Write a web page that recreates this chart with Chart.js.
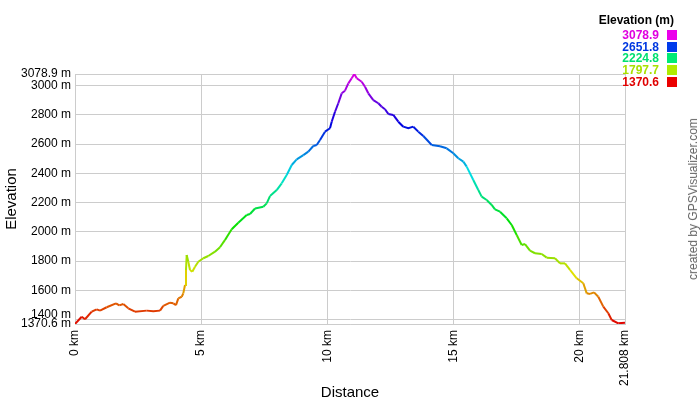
<!DOCTYPE html>
<html>
<head>
<meta charset="utf-8">
<script src="https://cdn.jsdelivr.net/npm/chart.js@4"></script>
<style>
  body { margin: 0; background: #fff; }
  #wrap { position: relative; width: 700px; height: 400px; font-family: "Liberation Sans", Arial, sans-serif; }
  #legend-title { position: absolute; right: 26px; top: 13px; font-size: 12px; font-weight: bold; color: #000; }
  .lg-val { position: absolute; right: 41px; font-size: 12px; font-weight: bold; line-height: 12px; }
  .lg-box { position: absolute; left: 667px; width: 10px; height: 10px; }
  #credit { position: absolute; left: 693px; top: 199px; font-size: 12px; color: #666;
            transform: translate(-50%, -50%) rotate(-90deg); white-space: nowrap; }
</style>
</head>
<body>
<div id="wrap">
  <canvas id="chart" width="700" height="400"></canvas>
  <div id="legend-title">Elevation (m)</div>
  <div id="credit">created by GPSVisualizer.com</div>
</div>
<script>
// Elevation profile
const distanceKm = [
  0, 0.266, 0.397, 0.662, 0.860, 0.991, 1.257, 1.626, 1.757, 1.915,
  2.113, 2.379, 2.843, 3.105, 3.370, 3.501, 3.767, 3.898, 4.005, 4.096,
  4.231, 4.294, 4.362, 4.401, 4.429, 4.492, 4.560, 4.651, 4.758, 4.889,
  5.087, 5.285, 5.551, 5.749, 5.948, 6.213, 6.475, 6.808, 6.939, 7.138,
  7.467, 7.601, 7.732, 7.998, 8.196, 8.394, 8.593, 8.791, 9.053, 9.251,
  9.449, 9.584, 9.715, 9.913, 10.111, 10.179, 10.310, 10.440, 10.575, 10.706,
  10.837, 10.972, 11.075, 11.170, 11.368, 11.499, 11.630, 11.828, 12.026, 12.161,
  12.292, 12.423, 12.621, 12.819, 13.017, 13.216, 13.414, 13.612, 13.811, 14.144,
  14.473, 14.738, 15.000, 15.198, 15.397, 15.531, 15.793, 15.991, 16.126, 16.324,
  16.522, 16.653, 16.852, 17.117, 17.316, 17.514, 17.712, 17.843, 18.041, 18.240,
  18.505, 18.704, 19.033, 19.231, 19.429, 19.628, 19.893, 20.155, 20.290, 20.420,
  20.579, 20.749, 20.948, 21.146, 21.281, 21.542, 21.808
];
const elevationM = [
  1370.6, 1420, 1403, 1455, 1471, 1462, 1485, 1512, 1498, 1507,
  1478, 1455, 1462, 1457, 1462, 1494, 1516, 1512, 1500, 1546,
  1557, 1580, 1637, 1740, 1842, 1796, 1740, 1728, 1762, 1796,
  1820, 1835, 1865, 1895, 1945, 2018, 2063, 2115, 2122, 2160,
  2172, 2195, 2245, 2286, 2332, 2389, 2457, 2496, 2525, 2548,
  2587, 2594, 2628, 2685, 2708, 2753, 2821, 2879, 2947, 2965,
  3015, 3050, 3078.9, 3050, 3026, 2992, 2947, 2901, 2879, 2855,
  2838, 2806, 2799, 2753, 2719, 2708, 2719, 2685, 2655, 2594,
  2585, 2571, 2537, 2503, 2480, 2446, 2355, 2286, 2241, 2218,
  2184, 2154, 2138, 2093, 2047, 1979, 1910, 1917, 1872, 1854,
  1849, 1824, 1820, 1785, 1785, 1740, 1683, 1649, 1580, 1576,
  1587, 1557, 1489, 1444, 1398, 1375, 1380
];
const xTickValues = [0, 5, 10, 15, 20, 21.808];
const yTickValues = [1370.6, 1400, 1600, 1800, 2000, 2200, 2400, 2600, 2800, 3000, 3078.9];
const legendValues = [3078.9, 2651.8, 2224.8, 1797.7, 1370.6];

const elevMin = 1370.6, elevMax = 3078.9;
const FONT = '"Liberation Sans", Arial, sans-serif';
const GRID = '#cccccc';

// red -> yellow -> green -> blue -> magenta along elevation
function elevColor(e, light = 44) {
  const h = (e - elevMin) / (elevMax - elevMin) * 300;
  return `hsl(${h.toFixed(1)}, 100%, ${light}%)`;
}

// colour scale legend
const wrap = document.getElementById('wrap');
legendValues.forEach((v, i) => {
  const cy = 35 + i * 11.7;
  const t = document.createElement('div');
  t.className = 'lg-val';
  t.textContent = v.toFixed(1);
  t.style.top = (cy - 6) + 'px';
  t.style.color = elevColor(v, 44);
  wrap.appendChild(t);
  const b = document.createElement('div');
  b.className = 'lg-box';
  b.style.top = (cy - 5) + 'px';
  b.style.background = elevColor(v, 46);
  wrap.appendChild(b);
});

new Chart(document.getElementById('chart'), {
  type: 'line',
  data: {
    datasets: [{
      data: distanceKm.map((x, i) => ({ x, y: elevationM[i] })),
      borderWidth: 2,
      pointRadius: 0,
      tension: 0,
      borderColor: elevColor(elevMin),
      segment: {
        borderColor: ctx => elevColor((ctx.p0.parsed.y + ctx.p1.parsed.y) / 2),
      },
    }],
  },
  options: {
    responsive: false,
    animation: false,
    layout: { padding: { top: 74, right: 75, bottom: 0, left: 0 } },
    plugins: { legend: { display: false }, tooltip: { enabled: false } },
    scales: {
      x: {
        type: 'linear',
        min: 0,
        max: 21.808,
        afterBuildTicks: s => { s.ticks = xTickValues.map(v => ({ value: v })); },
        afterFit: s => { s.height = 76; },
        grid: { color: GRID, drawTicks: false },
        border: { color: GRID },
        ticks: {
          autoSkip: false, maxRotation: 90, minRotation: 90, padding: 6,
          color: '#000', font: { family: FONT, size: 12 },
          callback: v => v + ' km',
        },
        title: { display: true, text: 'Distance', color: '#000', padding: 0, font: { family: FONT, size: 15, lineHeight: 1 } },
      },
      y: {
        type: 'linear',
        min: elevMin,
        max: elevMax,
        afterBuildTicks: s => { s.ticks = yTickValues.map(v => ({ value: v })); },
        afterFit: s => { s.width = 75; },
        grid: { color: GRID, drawTicks: false },
        border: { color: GRID },
        ticks: {
          autoSkip: false, padding: 4, color: '#000',
          // 1400 label is nudged up so it clears the 1370.6 label
          font: ctx => ({ family: FONT, size: 12, lineHeight: ctx.tick && ctx.tick.value === 1400 ? '10px' : 1.2 }),
          callback: v => {
            const s = (Number.isInteger(v) ? v : v.toFixed(1)) + ' m';
            return v === 1400 ? [s, ''] : s;
          },
        },
        title: { display: true, text: 'Elevation', color: '#000', padding: { top: 3, bottom: 0 }, font: { family: FONT, size: 15 } },
      },
    },
  },
});
</script>
</body>
</html>
